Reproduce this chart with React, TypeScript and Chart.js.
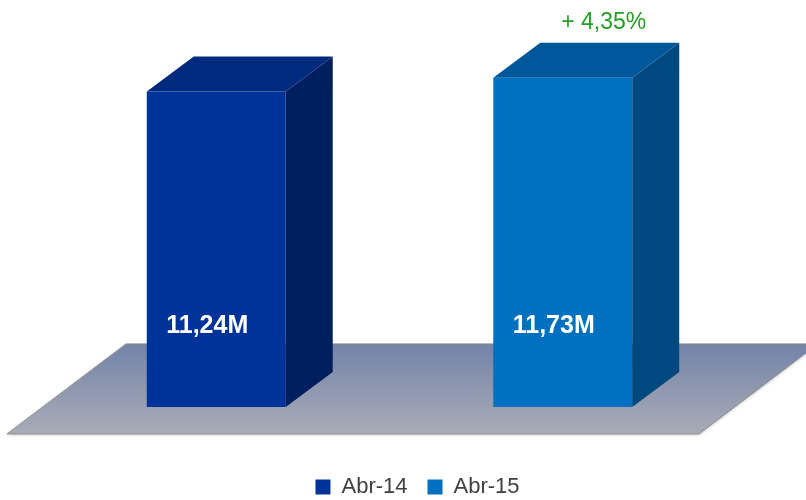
import React, { useEffect, useRef } from "react";
import { Chart, registerables } from "chart.js";

Chart.register(...registerables);

// ---- data ----
const categories = ["Abr"];
const seriesLabels = ["Abr-14", "Abr-15"];
const seriesValues = [11.24, 11.73];
const valueLabels = ["11,24M", "11,73M"];
const changeLabel = "+ 4,35%";

// ---- styles ----
const frontColors = ["#003399", "#0070C0"];
const topColors = ["#002A7E", "#00589A"];
const sideColors = ["#001F5E", "#004880"];
const DEPTH_X = 47;
const DEPTH_Y = -35;
const FONT = '"Liberation Sans", Arial, sans-serif';

const threeD = {
  id: "threeD",
  afterLayout(chart: any) {
    const lg = chart.legend;
    if (lg) {
      lg.left += 28;
      lg.right += 28;
    }
  },
  beforeDatasetsDraw(chart: any) {
    const { ctx, chartArea: ca } = chart;
    const y0 = chart.scales.y.getPixelForValue(0);
    const fy = y0 + 27;
    const by = fy - 90;
    const fl = ca.left - 36;
    const fr = ca.right - 37;
    ctx.save();
    ctx.beginPath();
    ctx.moveTo(fl, fy);
    ctx.lineTo(fr, fy);
    ctx.lineTo(fr + 119, by);
    ctx.lineTo(fl + 119, by);
    ctx.closePath();
    const g = ctx.createLinearGradient(0, by, 0, fy);
    g.addColorStop(0, "#7384A8");
    g.addColorStop(1, "#A9ACB6");
    ctx.fillStyle = g;
    ctx.shadowColor = "rgba(0,0,0,0.25)";
    ctx.shadowBlur = 3;
    ctx.shadowOffsetY = 1;
    ctx.fill();
    ctx.shadowColor = "transparent";
    ctx.strokeStyle = "rgba(140,140,140,0.9)";
    ctx.lineWidth = 1;
    ctx.stroke();
    ctx.restore();
  },
  afterDatasetsDraw(chart: any) {
    const { ctx } = chart;
    ctx.save();
    let last: any = null;
    seriesValues.forEach((_v, i) => {
      const meta = chart.getDatasetMeta(i);
      const el = meta.data[0];
      if (!el) return;
      const { x, y, base, width } = el.getProps(["x", "y", "base", "width"], true);
      const l = x - width / 2;
      const r = x + width / 2;
      // side face
      ctx.beginPath();
      ctx.moveTo(r, y);
      ctx.lineTo(r + DEPTH_X, y + DEPTH_Y);
      ctx.lineTo(r + DEPTH_X, base + DEPTH_Y);
      ctx.lineTo(r, base);
      ctx.closePath();
      ctx.fillStyle = sideColors[i];
      ctx.fill();
      // top face
      ctx.beginPath();
      ctx.moveTo(l, y);
      ctx.lineTo(l + DEPTH_X, y + DEPTH_Y);
      ctx.lineTo(r + DEPTH_X, y + DEPTH_Y);
      ctx.lineTo(r, y);
      ctx.closePath();
      ctx.fillStyle = topColors[i];
      ctx.fill();
      // value label
      ctx.fillStyle = "#FFFFFF";
      ctx.font = "bold 25px " + FONT;
      ctx.textAlign = "center";
      ctx.textBaseline = "middle";
      ctx.fillText(valueLabels[i], x - 9, base - 81);
      last = { x, y };
    });
    if (last) {
      ctx.fillStyle = "#22A022";
      ctx.font = "23px " + FONT;
      ctx.textAlign = "center";
      ctx.textBaseline = "middle";
      ctx.fillText(changeLabel, last.x + 41, last.y + DEPTH_Y - 20);
    }
    ctx.restore();
  },
};

export default function App() {
  const ref = useRef<HTMLCanvasElement>(null);
  useEffect(() => {
    if (!ref.current) return;
    const chart = new Chart(ref.current, {
      type: "bar",
      data: {
        labels: categories,
        datasets: seriesLabels.map((lab, i) => ({
          label: lab,
          data: [seriesValues[i]],
          backgroundColor: frontColors[i],
          borderWidth: 0,
          categoryPercentage: 1,
          barPercentage: 0.401,
        })),
      },
      options: {
        animation: false,
        responsive: true,
        maintainAspectRatio: false,
        layout: { padding: { top: 42, left: 43, right: 70, bottom: 0 } },
        scales: {
          x: { display: false },
          y: { display: false, min: -1.75, max: 13 },
        },
        plugins: {
          tooltip: { enabled: false },
          legend: {
            position: "bottom",
            labels: {
              boxWidth: 15,
              boxHeight: 15,
              padding: 20,
              color: "#404040",
              font: { size: 22, family: FONT },
            },
          },
        },
      },
      plugins: [threeD],
    });
    return () => chart.destroy();
  }, []);
  return (
    <div style={{ position: "fixed", left: 0, top: 0, width: 806, height: 508, background: "#fff" }}>
      <canvas ref={ref} />
    </div>
  );
}
